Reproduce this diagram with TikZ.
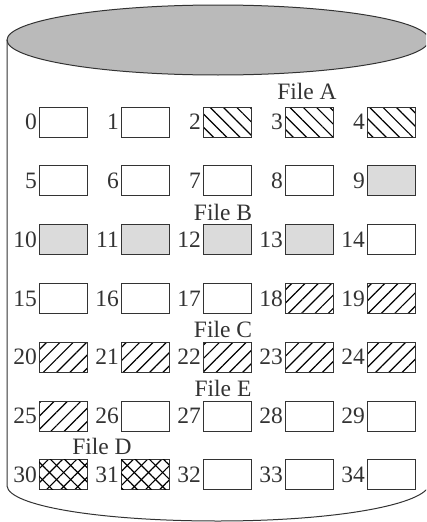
\documentclass[tikz,border=0pt]{standalone}
\usepackage{fontspec}
\setmainfont{Liberation Serif}
\usetikzlibrary{positioning,patterns.meta}
\definecolor{topgray}{gray}{0.73}
\definecolor{blkgray}{gray}{0.86}
\definecolor{inkgray}{gray}{0.2}
\tikzset{
  blk/.style={draw=inkgray, line width=1pt, minimum width=48pt, minimum height=30pt,
    inner sep=0pt, outer sep=0pt, anchor=north west},
  shade/.style={blk, fill=blkgray},
  hatchA/.style={blk, pattern={Lines[angle=-45,distance=9.4pt,line width=1.2pt]}},
  hatchC/.style={blk, pattern={Lines[angle=45,distance=9.4pt,line width=1.2pt]}},
  cross/.style={blk, pattern={Lines[angle=45,distance=10pt,line width=1.2pt]},
    postaction={pattern={Lines[angle=-45,distance=10pt,line width=1.2pt]}}},
  num/.style={inner sep=0pt, text=inkgray},
  fname/.style={inner sep=0pt, text=inkgray}
}
\begin{document}
\begin{tikzpicture}[x=1pt, y=-1pt, font=\fontsize{23.5}{27}\selectfont]
    \useasboundingbox (0,0) rectangle (426,522);
    \clip (0,0) rectangle (426,522);

    % ディスク（円柱）
    \fill[topgray] (218,40) ellipse [x radius=211, y radius=35];
    \draw[inkgray, line width=1pt] (218,40) ellipse [x radius=211, y radius=35];
    \draw[inkgray, line width=1pt] (7,40) -- (7,486)
      .. controls (9,506) and (100,521) .. (218,521)
      .. controls (330,521) and (420,506) .. (429,486) -- (429,40);

    % ブロック 0--34
    \foreach \n/\s in {0/blk,1/blk,2/hatchA,3/hatchA,4/hatchA,
                       5/blk,6/blk,7/blk,8/blk,9/shade,
                       10/shade,11/shade,12/shade,13/shade,14/blk,
                       15/blk,16/blk,17/blk,18/hatchC,19/hatchC,
                       20/hatchC,21/hatchC,22/hatchC,23/hatchC,24/hatchC,
                       25/hatchC,26/blk,27/blk,28/blk,29/blk,
                       30/cross,31/cross,32/blk,33/blk,34/blk}{
      \pgfmathtruncatemacro\r{int(\n/5)}
      \pgfmathtruncatemacro\c{mod(\n,5)}
      \node[\s] (b\n) at ({39+82*\c},{107+58.8*\r}) {};
      \node[num, left=2pt of b\n] (n\n) {\n};
    }

    % ファイル名
    \node[fname] (fA) at (307,91) {File A};
    \node[fname] (fB) at (223,212) {File B};
    \node[fname] (fC) at (223,329) {File C};
    \node[fname] (fE) at (223,388) {File E};
    \node[fname] (fD) at (102,446) {File D};
  \end{tikzpicture}
\end{document}
